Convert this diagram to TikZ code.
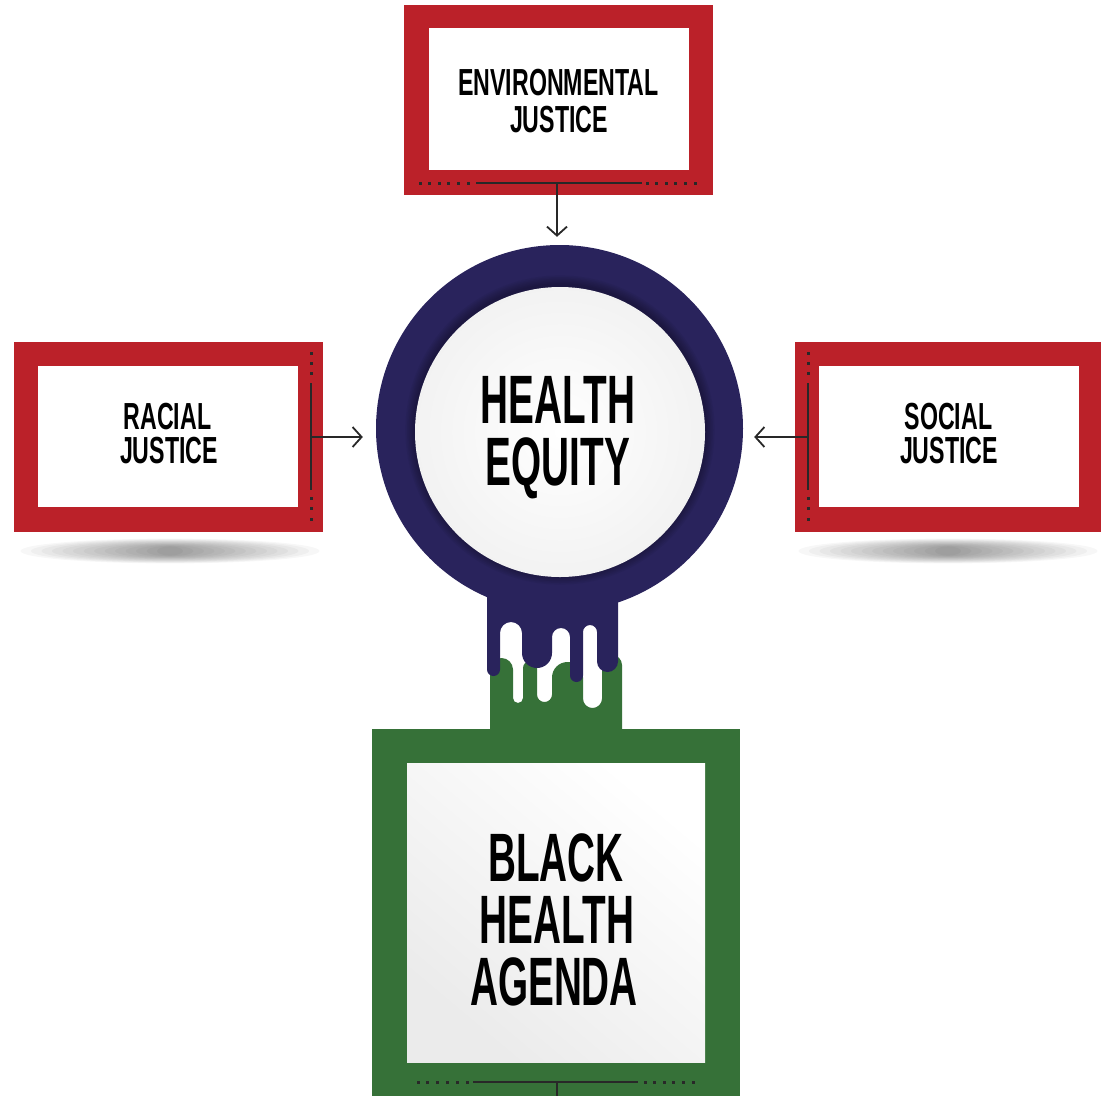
\documentclass[tikz,border=0pt]{standalone}
\usepackage{fontspec}
\newfontfamily\labelfont{Liberation Sans}[FakeStretch=0.615]
\newfontfamily\titlefont{Liberation Sans}[FakeStretch=0.565]
\usetikzlibrary{arrows.meta}
\definecolor{framered}{RGB}{187,33,41}
\definecolor{ringnavy}{RGB}{41,35,92}
\definecolor{agendagreen}{RGB}{54,113,56}
\definecolor{wire}{RGB}{40,40,40}

\begin{document}
\begin{tikzpicture}[x=1pt,y=-1pt,
  panel/.style={fill=#1, draw=none, inner sep=0pt, outer sep=0pt, rectangle},
  smalltxt/.style={font=\labelfont\bfseries\fontsize{37.7}{40}\selectfont, inner sep=0pt, anchor=base, text=black},
  bigtxt/.style={font=\titlefont\bfseries\fontsize{68.5}{70}\selectfont, inner sep=0pt, anchor=base, text=black},
  wireline/.style={draw=wire, line width=1.8pt},
  feed/.style={draw=wire, line width=1.8pt, -{Straight Barb[length=9pt,width=20pt,line width=1.8pt]}},
  dotmark/.style={fill=wire}
]
\useasboundingbox (0,0) rectangle (1101,1096);
\clip (0,0) rectangle (1101,1096);
\fill[white] (0,0) rectangle (1101,1096);

% soft floor shadows under the side cards
\foreach \k in {1,...,14}{
  \fill[black, opacity=0.03] (170,551) ellipse [x radius={160-10.5*\k}, y radius={13-0.6*\k}];
  \fill[black, opacity=0.03] (948,551) ellipse [x radius={160-10.5*\k}, y radius={13-0.6*\k}];
}

% green stem with upward fingers
\fill[agendagreen] (490,730) -- (490,669.5) arc[start angle=180, end angle=360, radius=11.5]
  -- (513,698) arc[start angle=180, end angle=0, radius=5]
  -- (523,668) arc[start angle=180, end angle=360, radius=7]
  -- (537,694.5) arc[start angle=180, end angle=0, radius=7.5]
  -- (552,677.5) arc[start angle=180, end angle=360, radius=15.5]
  -- (583,698.5) arc[start angle=180, end angle=0, radius=9.5]
  -- (602,665) arc[start angle=180, end angle=360, radius=10]
  -- (622,730) -- cycle;

% green card
\node[panel=agendagreen, minimum width=368pt, minimum height=367pt] (bhaframe) at (556,912.5) {};
\node[panel=white, minimum width=298pt, minimum height=299pt,
      top color=white, bottom color=black!8, shading angle=-40] (bhacard) at (556,912.5) {};

% navy stem with dripping fingers
\fill[ringnavy] (487,560) -- (487,669.5) arc[start angle=180, end angle=0, radius=6.5]
  -- (500,633) arc[start angle=180, end angle=360, radius=11]
  -- (522,653) arc[start angle=180, end angle=0, radius=15]
  -- (552,637) arc[start angle=180, end angle=360, radius=9]
  -- (570,675.5) arc[start angle=180, end angle=0, radius=6.5]
  -- (583,632) arc[start angle=180, end angle=360, radius=7]
  -- (597,661.5) arc[start angle=180, end angle=0, radius=10.5]
  -- (618,560) -- cycle;

% navy ring and white disc
\node[circle, fill=ringnavy, inner sep=0pt, minimum size=367pt] (ring) at (559.5,428.5) {};
\foreach \k in {1,...,6}
  \fill[black, opacity=0.05] (560,430) circle [radius={145+1.6*\k}];
\node[circle, inner sep=0pt, minimum size=290pt, inner color=white, outer color=black!5] (disc) at (560,432) {};

% red cards
\node[panel=framered, minimum width=309pt, minimum height=190pt] (envframe) at (558.5,100) {};
\node[panel=white, minimum width=260pt, minimum height=142pt] (envcard) at (559,99) {};
\node[panel=framered, minimum width=309pt, minimum height=190pt] (racframe) at (168.5,437) {};
\node[panel=white, minimum width=260pt, minimum height=141pt] (raccard) at (168,436.5) {};
\node[panel=framered, minimum width=309pt, minimum height=190pt] (socframe) at (949.5,437) {};
\node[panel=white, minimum width=260pt, minimum height=141pt] (soccard) at (949,436.5) {};

% rails with dotted ends on the card frames
\draw[wireline] (476,183) -- (642,183);
\foreach \x in {420,429.6,...,469}{ \fill[dotmark] (\x-1.5,181.5) rectangle +(3,3); }
\foreach \x in {647,656.6,...,696}{ \fill[dotmark] (\x-1.5,181.5) rectangle +(3,3); }

\draw[wireline] (311,383) -- (311,490);
\draw[wireline] (808,383) -- (808,490);
\foreach \y in {353,363,373,498,508,519}{
  \fill[dotmark] (309.5,\y-1.5) rectangle +(3,3);
  \fill[dotmark] (806.5,\y-1.5) rectangle +(3,3);
}

\draw[wireline] (473,1082) -- (638,1082);
\foreach \x in {418,427.8,...,468}{ \fill[dotmark] (\x-1.5,1080.5) rectangle +(3,3); }
\foreach \x in {645,654.6,...,694}{ \fill[dotmark] (\x-1.5,1080.5) rectangle +(3,3); }

% connectors
\coordinate (envjoin) at (557,183);
\coordinate (racjoin) at (311,437);
\coordinate (socjoin) at (808,437);
\coordinate (bhajoin) at (557,1082);
\coordinate (bhaout) at (557,1096);
\draw[feed, shorten >=8pt] (envjoin) -- (envjoin |- ring.north);
\draw[feed, shorten >=13pt] (racjoin) -- (racjoin -| ring.west);
\draw[feed, shorten >=11pt] (socjoin) -- (socjoin -| ring.east);
\draw[wireline] (bhajoin) -- (bhaout);

% labels
\node[smalltxt] (envA) at (558.5,95) {ENVIRONMENTAL};
\node[smalltxt] (envB) at (559,132) {JUSTICE};
\node[smalltxt] (racA) at (167.5,429) {RACIAL};
\node[smalltxt] (racB) at (169,463) {JUSTICE};
\node[smalltxt] (socA) at (948.5,429) {SOCIAL};
\node[smalltxt] (socB) at (949,463) {JUSTICE};
\node[bigtxt] (heA) at (558,423) {HEALTH};
\node[bigtxt] (heB) at (558,485) {EQUITY};
\node[bigtxt] (bhaA) at (556,881) {BLACK};
\node[bigtxt] (bhaB) at (557,943) {HEALTH};
\node[bigtxt] (bhaC) at (554,1005) {AGENDA};
\end{tikzpicture}
\end{document}
